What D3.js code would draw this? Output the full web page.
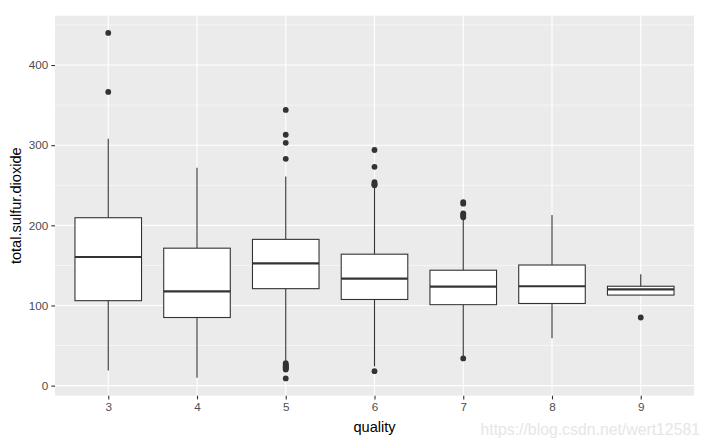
<!DOCTYPE html>
<html>
<head>
<meta charset="utf-8">
<script src="https://cdn.jsdelivr.net/npm/d3@7"></script>
<style>
  body { margin: 0; background: #fff; }
  text { font-family: "Liberation Sans", Arial, sans-serif; }
</style>
</head>
<body>
<div id="chart"></div>
<script>
// Data
const qualities = ["3", "4", "5", "6", "7", "8", "9"];
const whiskerLow = [19, 10, 31, 24, 36, 59, 113];
const q1 = [106, 85, 121, 107.5, 101, 102.5, 113];
const medians = [160.5, 117.5, 152.5, 133.5, 123.5, 124, 120];
const q3 = [209.5, 171.5, 182.5, 164, 144, 150.5, 124];
const whiskerHigh = [308, 272, 261, 247, 207, 213, 139];
const outliers = [
  [440, 366.5],
  [],
  [344, 313, 303, 283, 28, 26, 25, 24, 23, 22, 21, 20, 9],
  [294, 273, 254, 252, 251, 250, 18],
  [229, 227, 215, 213, 212, 210, 34],
  [],
  [85],
];
const yTicks = [0, 100, 200, 300, 400];
const yMinor = [50, 150, 250, 350, 450];

function draw() {
  const dimensions = {
    width: 707,
    height: 447,
    margins: { top: 15.7, right: 13, bottom: 51.3, left: 55 },
  };
  dimensions.ctrWidth = dimensions.width - dimensions.margins.left - dimensions.margins.right;
  dimensions.ctrHeight = dimensions.height - dimensions.margins.top - dimensions.margins.bottom;

  const svg = d3
    .select("#chart")
    .append("svg")
    .attr("width", dimensions.width)
    .attr("height", dimensions.height);

  const ctr = svg
    .append("g")
    .attr("transform", `translate(${dimensions.margins.left}, ${dimensions.margins.top})`);

  // Scales
  const allValues = whiskerLow.concat(whiskerHigh, outliers.flat());
  const [lo, hi] = d3.extent(allValues);
  const pad = (hi - lo) * 0.05;
  const yScale = d3
    .scaleLinear()
    .domain([lo - pad, hi + pad])
    .range([dimensions.ctrHeight, 0]);

  const step = dimensions.ctrWidth / (qualities.length - 1 + 1.2);
  const xScale = d3
    .scalePoint()
    .domain(qualities)
    .range([step * 0.6, dimensions.ctrWidth - step * 0.6]);
  const boxWidth = step * 0.75;

  // Panel
  ctr
    .append("rect")
    .attr("width", dimensions.ctrWidth)
    .attr("height", dimensions.ctrHeight)
    .attr("fill", "#ebebeb");

  ctr
    .selectAll(".minor")
    .data(yMinor)
    .join("line")
    .attr("x1", 0)
    .attr("x2", dimensions.ctrWidth)
    .attr("y1", (d) => yScale(d))
    .attr("y2", (d) => yScale(d))
    .attr("stroke", "#fff")
    .attr("stroke-width", 0.55);

  ctr
    .selectAll(".major")
    .data(yTicks)
    .join("line")
    .attr("x1", 0)
    .attr("x2", dimensions.ctrWidth)
    .attr("y1", (d) => yScale(d))
    .attr("y2", (d) => yScale(d))
    .attr("stroke", "#fff")
    .attr("stroke-width", 1.1);

  ctr
    .selectAll(".vmajor")
    .data(qualities)
    .join("line")
    .attr("x1", (d) => xScale(d))
    .attr("x2", (d) => xScale(d))
    .attr("y1", 0)
    .attr("y2", dimensions.ctrHeight)
    .attr("stroke", "#fff")
    .attr("stroke-width", 1.1);

  // Boxes
  const boxes = ctr
    .selectAll(".box")
    .data(qualities)
    .join("g")
    .attr("transform", (d) => `translate(${xScale(d)},0)`);

  boxes
    .append("line")
    .attr("y1", (d, i) => yScale(whiskerHigh[i]))
    .attr("y2", (d, i) => yScale(q3[i]))
    .attr("stroke", "#333")
    .attr("stroke-width", 1.1);

  boxes
    .append("line")
    .attr("y1", (d, i) => yScale(q1[i]))
    .attr("y2", (d, i) => yScale(whiskerLow[i]))
    .attr("stroke", "#333")
    .attr("stroke-width", 1.1);

  boxes
    .append("rect")
    .attr("x", -boxWidth / 2)
    .attr("width", boxWidth)
    .attr("y", (d, i) => yScale(q3[i]))
    .attr("height", (d, i) => yScale(q1[i]) - yScale(q3[i]))
    .attr("fill", "#fff")
    .attr("stroke", "#333")
    .attr("stroke-width", 1.1);

  boxes
    .append("line")
    .attr("x1", -boxWidth / 2)
    .attr("x2", boxWidth / 2)
    .attr("y1", (d, i) => yScale(medians[i]))
    .attr("y2", (d, i) => yScale(medians[i]))
    .attr("stroke", "#333")
    .attr("stroke-width", 2.2);

  boxes
    .selectAll("circle")
    .data((d, i) => outliers[i])
    .join("circle")
    .attr("cy", (v) => yScale(v))
    .attr("r", 2.9)
    .attr("fill", "#333");

  // Axes
  const yAxis = d3.axisLeft(yScale).tickValues(yTicks).tickSize(3.7).tickPadding(3);
  const yG = ctr.append("g").call(yAxis);
  const xAxis = d3.axisBottom(xScale).tickSize(3.7).tickPadding(3.5);
  const xG = ctr.append("g").attr("transform", `translate(0,${dimensions.ctrHeight})`).call(xAxis);

  [yG, xG].forEach((g) => {
    g.select(".domain").remove();
    g.selectAll(".tick line").attr("stroke", "#333").attr("stroke-width", 1.1);
    g.selectAll(".tick text").attr("fill", "#4d4d4d").style("font-size", "11.7px");
  });

  // Axis titles
  svg
    .append("text")
    .attr("x", dimensions.margins.left + dimensions.ctrWidth / 2)
    .attr("y", 432)
    .attr("text-anchor", "middle")
    .style("font-size", "14.6px")
    .attr("fill", "#000")
    .text("quality");

  svg
    .append("text")
    .attr(
      "transform",
      `translate(21,${dimensions.margins.top + dimensions.ctrHeight / 2}) rotate(-90)`
    )
    .attr("text-anchor", "middle")
    .style("font-size", "14.6px")
    .attr("fill", "#000")
    .text("total.sulfur.dioxide");

  // Watermark
  svg
    .append("text")
    .attr("x", 700)
    .attr("y", 435)
    .attr("text-anchor", "end")
    .style("font-size", "15.8px")
    .attr("fill", "#e6e6e6")
    .text("https://blog.csdn.net/wert12581");
}

draw();
</script>
</body>
</html>
